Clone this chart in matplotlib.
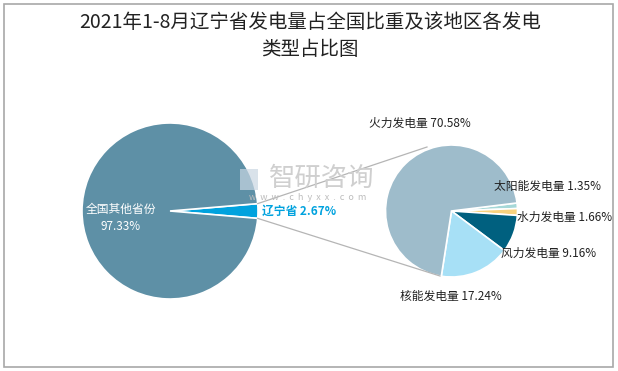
import numpy as np
import matplotlib
matplotlib.use("Agg")
import matplotlib.pyplot as plt
from matplotlib.patches import Rectangle

plt.rcParams['font.family'] = ['Noto Sans CJK SC', 'DejaVu Sans']

W, H = 618, 371

# main pie: share of national generation
main_labels = ['辽宁省', '全国其他省份']
main_values = [2.67, 97.33]
main_colors = ['#00a2de', '#5e90a6']

# secondary pie: generation types in Liaoning
sub_labels = ['太阳能发电量', '水力发电量', '风力发电量', '核能发电量', '火力发电量']
sub_values = [1.35, 1.66, 9.16, 17.24, 70.58]
sub_colors = ['#a6d8d8', '#f8d27e', '#00607f', '#a7e0f6', '#9ebccb']

title = '2021年1-8月辽宁省发电量占全国比重及该地区各发电\n类型占比图'

fig = plt.figure(figsize=(W / 100, H / 100), dpi=100)
ax = fig.add_axes([0, 0, 1, 1])

def py(y):
    # pixel row -> axis y (y up)
    return H - y

# left pie
c1, r1 = (170, py(211)), 88
start1 = -main_values[0] * 3.6 / 2
ax.pie(main_values, colors=main_colors, startangle=start1, center=c1, radius=r1,
       wedgeprops=dict(edgecolor='white', linewidth=1.2), frame=True)

# right pie
c2, r2 = (451.5, py(211)), 66
ax.pie(sub_values, colors=sub_colors, startangle=7, counterclock=False, center=c2, radius=r2,
       wedgeprops=dict(edgecolor='white', linewidth=1.2), frame=True)

# connector lines from the small slice to the secondary pie
a = np.deg2rad(main_values[0] * 3.6 / 2)
x0 = c1[0] + r1 * np.cos(a)
ax.plot([x0, 427], [c1[1] + r1 * np.sin(a), py(147)], color='#b5b5b5', lw=0.9, zorder=3)
ax.plot([x0, 440], [c1[1] - r1 * np.sin(a), py(276)], color='#b5b5b5', lw=0.9, zorder=3)

# watermark
ax.text(322, py(178), '智研咨询', fontsize=19, color='#cfcfcf', ha='center', va='center', zorder=4)
ax.text(308, py(197), 'w  w  w  .  c  h  y  x  x  .  c  o  m', fontsize=6.5, color='#bdbdbd',
        ha='center', va='center', zorder=4)
ax.add_patch(Rectangle((240, py(190)), 18, 21, facecolor='#c9d6e2', edgecolor='none', alpha=0.7, zorder=4))

# labels of the main pie
ax.text(121, py(218), '全国其他省份\n97.33%', fontsize=8.5, color='white', ha='center', va='center',
        linespacing=1.5, zorder=5)
ax.text(262, py(211), f'{main_labels[0]} {main_values[0]:.2f}%', fontsize=8.5, color='#00a2de',
        fontweight='bold', ha='left', va='center', zorder=5)

# labels of the secondary pie
sub_pos = [(494, 186, 'left'), (517, 217, 'left'), (501, 253, 'left'), (451, 296, 'center'), (420, 123, 'center')]
for lab, v, (x, y, ha) in zip(sub_labels, sub_values, sub_pos):
    ax.text(x, py(y), f'{lab} {v:.2f}%', fontsize=8.5, color='#222222', ha=ha, va='center', zorder=5)

ax.text(310, py(36), title, fontsize=14, color='#222222', ha='center', va='center', linespacing=1.35)

# outer frame
ax.add_patch(Rectangle((4, 4), W - 9, H - 8, fill=False, edgecolor='#a8a8a8', lw=1.2))

ax.set_xlim(0, W)
ax.set_ylim(0, H)
ax.set_aspect('auto')
ax.axis('off')

fig.savefig('out.png', dpi=100)
